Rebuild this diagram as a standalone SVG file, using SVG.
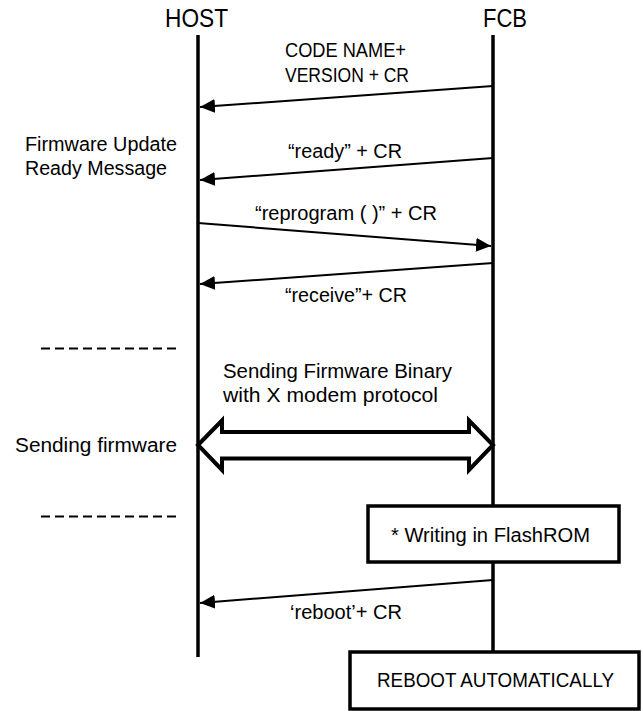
<svg xmlns="http://www.w3.org/2000/svg" width="643" height="711" viewBox="0 0 643 711">
<style>
text{font-family:"Liberation Sans",Arial,sans-serif;fill:#000}
.t{font-size:20px}
.h{font-size:25px}
.life{stroke:#000;stroke-width:3.5;fill:none}
.msg{stroke:#000;stroke-width:2;fill:none;marker-end:url(#ah)}
.dash{stroke:#000;stroke-width:2;stroke-dasharray:9 5;fill:none}
.box{fill:#fff;stroke:#000;stroke-width:3.5}
</style>
<defs>
<marker id="ah" markerUnits="userSpaceOnUse" markerWidth="16" markerHeight="16" refX="15" refY="7" orient="auto">
<path d="M0,0 L15,7 L0,14 Z" fill="#000"/>
</marker>
</defs>
<g id="host">
<text class="h" x="165" y="27" textLength="63" lengthAdjust="spacingAndGlyphs">HOST</text>
<line class="life" x1="198" y1="35" x2="198" y2="657"/>
</g>
<g id="fcb">
<text class="h" x="483" y="27" textLength="44" lengthAdjust="spacingAndGlyphs">FCB</text>
<line class="life" x1="493" y1="35" x2="493" y2="652"/>
</g>
<g id="connectors">
<line class="msg" x1="493" y1="86" x2="200" y2="107"/>
<line class="msg" x1="493" y1="158" x2="200" y2="180"/>
<line class="msg" x1="198" y1="223" x2="491" y2="246"/>
<line class="msg" x1="493" y1="263" x2="200" y2="284"/>
<line class="msg" x1="493" y1="580" x2="200" y2="603"/>
<polygon id="xfer" points="198,445 222,420.5 222,432 469,432 469,420.5 493,445 469,470 469,458.5 222,458.5 222,470" fill="#fff" stroke="#000" stroke-width="4" stroke-linejoin="miter"/>
</g>
<g id="labels">
<text class="t" x="285" y="57" textLength="121" lengthAdjust="spacingAndGlyphs">CODE NAME+</text>
<text class="t" x="285" y="82" textLength="124" lengthAdjust="spacingAndGlyphs">VERSION + CR</text>
<text class="t" x="288" y="158" textLength="114" lengthAdjust="spacingAndGlyphs">“ready” + CR</text>
<text class="t" x="255" y="220" textLength="182" lengthAdjust="spacingAndGlyphs">“reprogram ( )” + CR</text>
<text class="t" x="285" y="302" textLength="122" lengthAdjust="spacingAndGlyphs">“receive”+ CR</text>
<text class="t" x="290" y="619" textLength="112" lengthAdjust="spacingAndGlyphs">‘reboot’+ CR</text>
<text class="t" x="223" y="378" textLength="229" lengthAdjust="spacingAndGlyphs">Sending Firmware Binary</text>
<text class="t" x="223" y="402" textLength="215" lengthAdjust="spacingAndGlyphs">with X modem protocol</text>
</g>
<g id="notes">
<text class="t" x="25" y="151" textLength="152" lengthAdjust="spacingAndGlyphs">Firmware Update</text>
<text class="t" x="25" y="175" textLength="142" lengthAdjust="spacingAndGlyphs">Ready Message</text>
<text class="t" x="15" y="452" textLength="162" lengthAdjust="spacingAndGlyphs">Sending firmware</text>
<line class="dash" x1="41" y1="348.5" x2="178" y2="348.5"/>
<line class="dash" x1="41" y1="516.5" x2="178" y2="516.5"/>
</g>
<g id="flash">
<rect class="box" x="368" y="506" width="251" height="56"/>
<text class="t" x="391" y="542" textLength="199" lengthAdjust="spacingAndGlyphs">* Writing in FlashROM</text>
</g>
<g id="reboot">
<rect class="box" x="350" y="652" width="289" height="57"/>
<text class="t" x="377" y="687" textLength="237" lengthAdjust="spacingAndGlyphs">REBOOT AUTOMATICALLY</text>
</g>
</svg>
